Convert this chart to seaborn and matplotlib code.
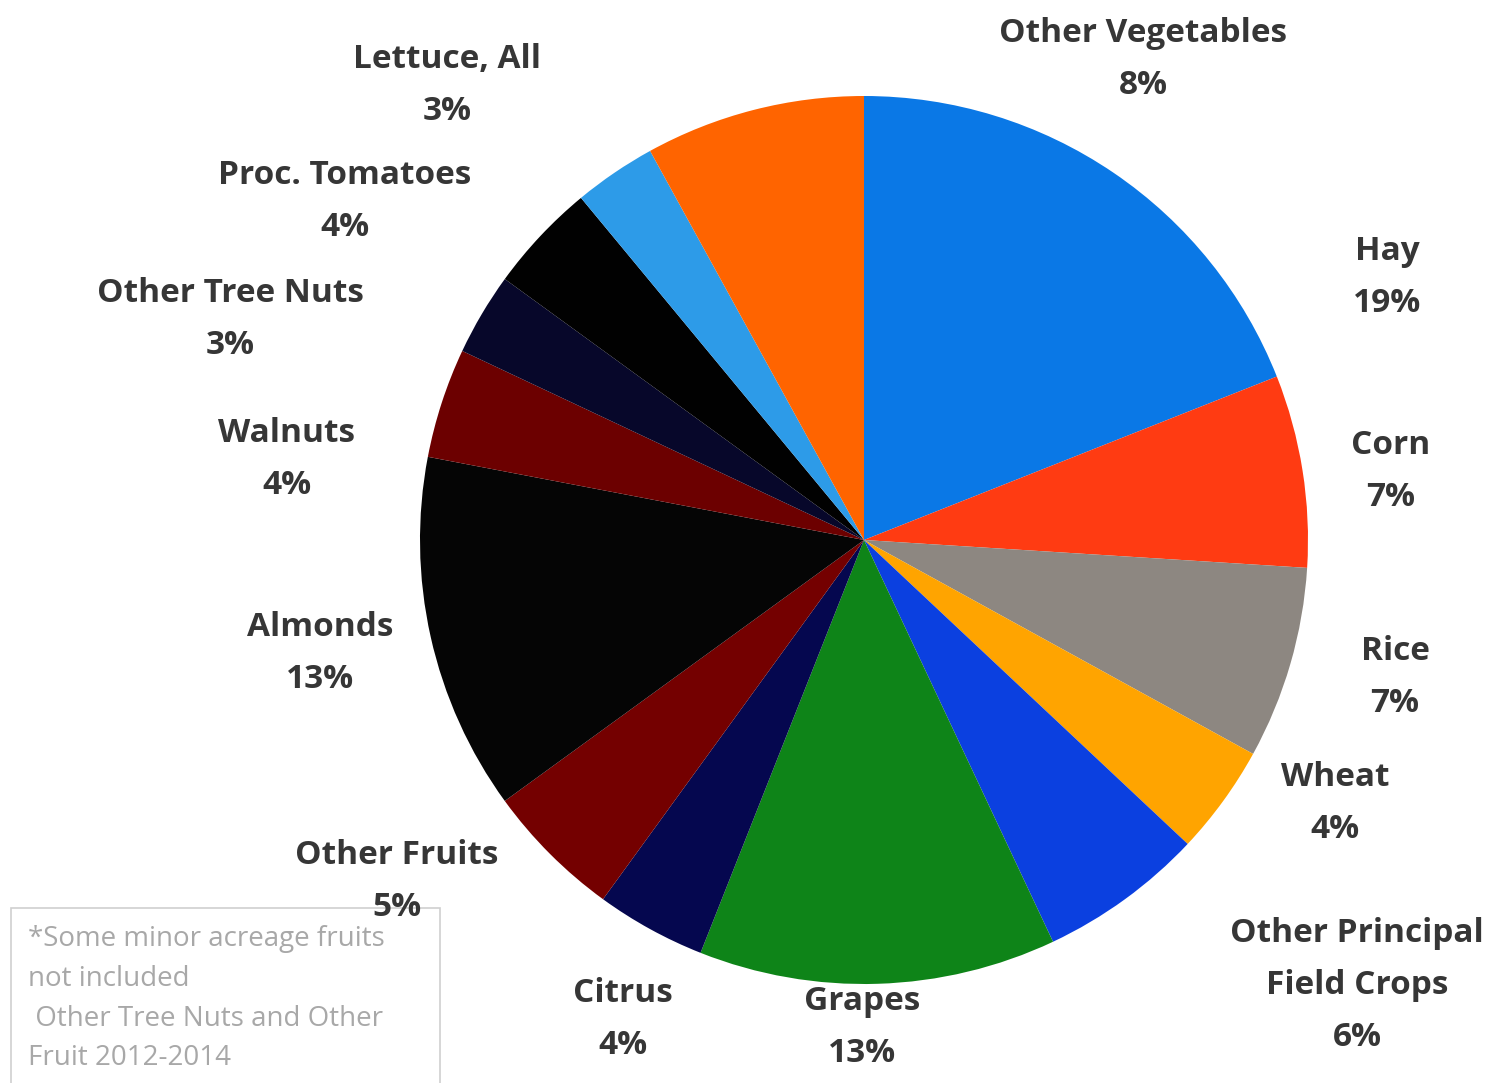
import matplotlib
matplotlib.use("Agg")
import matplotlib.pyplot as plt
import seaborn as sns

# Crop acreage shares, clockwise from 12 o'clock
crops = ["Hay", "Corn", "Rice", "Wheat", "Other Principal\nField Crops",
         "Grapes", "Citrus", "Other Fruits", "Almonds", "Walnuts",
         "Other Tree Nuts", "Proc. Tomatoes", "Lettuce, All", "Other Vegetables"]
shares = [19, 7, 7, 4, 6, 13, 4, 5, 13, 4, 3, 4, 3, 8]
slice_colors = ["#0a78e6", "#ff3b12", "#8d8781", "#ffa400", "#0b40e0",
                "#0e8418", "#05074f", "#740000", "#050505", "#6c0000",
                "#07072a", "#010101", "#2d9be8", "#ff6400"]

# Label anchor points (pixel coordinates, origin top-left)
label_xy = [(1387, 278), (1391, 471), (1395, 678), (1335, 803), (1357, 985),
            (862, 1028), (623, 1019), (397, 881), (320, 653), (287, 460),
            (230, 320), (345, 201), (447, 86), (1143, 59)]

footnote = "*Some minor acreage fruits\nnot included\n Other Tree Nuts and Other\nFruit 2012-2014"

W, H = 1499, 1083
sns.set_theme(style="white")
plt.rcParams["font.family"] = ["Open Sans", "DejaVu Sans"]

fig = plt.figure(figsize=(W / 100, H / 100), dpi=100)
ax = fig.add_axes([0, 0, 1, 1])

ax.pie(shares, colors=slice_colors, startangle=90, counterclock=False,
       center=(864, H - 540), radius=444, frame=True,
       wedgeprops=dict(linewidth=0, edgecolor="none"))
ax.set_xlim(0, W)
ax.set_ylim(0, H)
ax.set_aspect("equal")
ax.axis("off")

# Footnote box (drawn before labels so the "5%" sits on top of its border)
box = plt.Rectangle((11, -20), 429, (H - 908) + 20, facecolor="white",
                    edgecolor="#cfcfcf", linewidth=1.2, zorder=3)
ax.add_patch(box)
ax.text(28, H - 925, footnote, ha="left", va="top", fontsize=20,
        color="#a8a8a8", linespacing=1.56, zorder=4)

for name, pct, (x, y) in zip(crops, shares, label_xy):
    ax.text(x, H - y, f"{name}\n{pct}%", ha="center", va="center",
            fontsize=24, fontweight="bold", color="#363636",
            linespacing=1.76, zorder=5)

fig.savefig("out.png", dpi=100, facecolor="white")
